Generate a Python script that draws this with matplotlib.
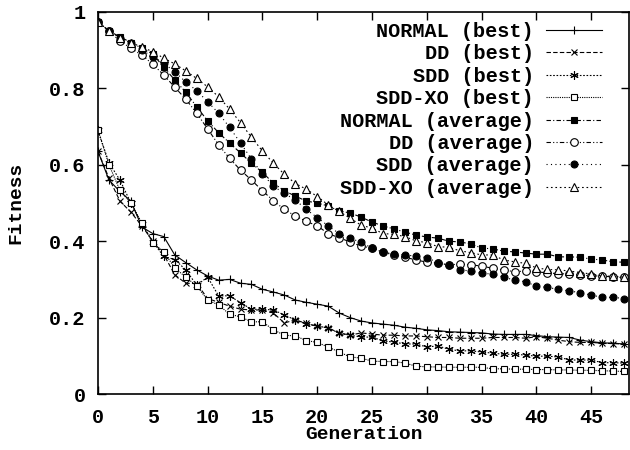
import matplotlib
matplotlib.use("Agg")
import matplotlib.pyplot as plt
import numpy as np

generations = list(range(49))

normal_best = [0.635,0.56,0.53,0.505,0.437,0.42,0.412,0.364,0.344,0.325,0.309,0.298,0.30,0.29,0.287,0.274,0.267,0.259,0.246,0.24,0.235,0.23,0.212,0.20,0.191,0.186,0.183,0.18,0.175,0.172,0.168,0.166,0.163,0.162,0.161,0.16,0.157,0.156,0.156,0.156,0.153,0.15,0.149,0.148,0.141,0.137,0.134,0.133,0.131]
dd_best = [0.635,0.565,0.505,0.476,0.44,0.40,0.365,0.312,0.29,0.289,0.25,0.24,0.23,0.222,0.22,0.22,0.212,0.186,0.194,0.185,0.177,0.173,0.16,0.154,0.16,0.157,0.154,0.154,0.152,0.152,0.15,0.148,0.148,0.146,0.146,0.146,0.148,0.148,0.148,0.146,0.15,0.146,0.141,0.137,0.135,0.135,0.133,0.132,0.131]
sdd_best = [0.69,0.605,0.56,0.50,0.445,0.398,0.36,0.352,0.325,0.285,0.306,0.257,0.257,0.239,0.222,0.222,0.22,0.207,0.194,0.183,0.178,0.173,0.159,0.154,0.149,0.149,0.139,0.136,0.131,0.131,0.123,0.126,0.117,0.113,0.113,0.11,0.107,0.104,0.104,0.102,0.099,0.099,0.097,0.089,0.089,0.089,0.082,0.082,0.081]
sddxo_best = [0.69,0.60,0.533,0.50,0.447,0.396,0.372,0.33,0.306,0.283,0.246,0.233,0.209,0.202,0.189,0.189,0.168,0.154,0.152,0.14,0.135,0.123,0.11,0.097,0.094,0.086,0.085,0.085,0.081,0.073,0.071,0.071,0.07,0.07,0.07,0.07,0.066,0.066,0.065,0.065,0.064,0.064,0.063,0.063,0.062,0.062,0.061,0.06,0.059]
normal_avg = [0.975,0.95,0.935,0.92,0.905,0.89,0.855,0.822,0.79,0.752,0.715,0.684,0.657,0.631,0.604,0.58,0.552,0.532,0.518,0.505,0.50,0.492,0.479,0.474,0.463,0.45,0.44,0.432,0.424,0.416,0.411,0.408,0.40,0.398,0.393,0.382,0.38,0.374,0.372,0.369,0.366,0.366,0.359,0.359,0.358,0.353,0.351,0.346,0.345]
dd_avg = [0.975,0.95,0.924,0.905,0.887,0.863,0.835,0.803,0.772,0.735,0.694,0.652,0.617,0.586,0.56,0.532,0.506,0.483,0.466,0.452,0.44,0.42,0.409,0.398,0.387,0.382,0.371,0.364,0.358,0.351,0.345,0.343,0.338,0.34,0.338,0.335,0.329,0.325,0.32,0.322,0.32,0.317,0.315,0.314,0.312,0.309,0.309,0.306,0.305]
sdd_avg = [0.975,0.95,0.933,0.918,0.90,0.883,0.866,0.843,0.817,0.794,0.765,0.735,0.698,0.657,0.615,0.576,0.544,0.525,0.508,0.483,0.462,0.44,0.42,0.408,0.397,0.382,0.372,0.366,0.364,0.361,0.357,0.344,0.337,0.325,0.322,0.316,0.314,0.306,0.298,0.294,0.282,0.279,0.274,0.27,0.265,0.259,0.253,0.253,0.25]
sddxo_avg = [0.975,0.95,0.933,0.92,0.908,0.896,0.879,0.864,0.846,0.826,0.804,0.778,0.746,0.71,0.672,0.636,0.604,0.575,0.551,0.536,0.517,0.495,0.478,0.46,0.442,0.434,0.42,0.418,0.412,0.401,0.396,0.386,0.384,0.375,0.37,0.364,0.364,0.351,0.346,0.342,0.33,0.326,0.325,0.322,0.318,0.314,0.309,0.308,0.306]

labels = ["NORMAL (best)", "DD (best)", "SDD (best)", "SDD-XO (best)",
          "NORMAL (average)", "DD (average)", "SDD (average)", "SDD-XO (average)"]
xticks = [0, 5, 10, 15, 20, 25, 30, 35, 40, 45]
yticks = [0, 0.2, 0.4, 0.6, 0.8, 1]
ytick_labels = ["0", "0.2", "0.4", "0.6", "0.8", "1"]

series = [normal_best, dd_best, sdd_best, sddxo_best, normal_avg, dd_avg, sdd_avg, sddxo_avg]
styles = [
    dict(ls="-", marker="+", ms=6, mfc="black"),
    dict(ls=(0, (4, 2)), marker="x", ms=5, mfc="black"),
    dict(ls=(0, (1.5, 1.5)), marker=(6, 2, 0), ms=6, mfc="black"),
    dict(ls=(0, (1, 1)), marker="s", ms=5, mfc="white"),
    dict(ls=(0, (4, 2, 1, 2)), marker="s", ms=5, mfc="black"),
    dict(ls=(0, (4, 2, 1, 2, 1, 2)), marker="o", ms=5.5, mfc="white"),
    dict(ls=(0, (1, 3)), marker="o", ms=5, mfc="black"),
    dict(ls=(0, (1.5, 2.5)), marker="^", ms=5.5, mfc="white"),
]

mono = "Liberation Mono"
plt.rcParams["font.family"] = [mono, "DejaVu Sans Mono"]
plt.rcParams["font.weight"] = "bold"

fig = plt.figure(figsize=(6.3, 4.5), dpi=100)
ax = fig.add_axes([0.1556, 0.1244, 0.843, 0.849])

handles = []
for data, st, lab in zip(series, styles, labels):
    h, = ax.plot(generations, data, color="black", lw=0.8, linestyle=st["ls"],
                 marker=st["marker"], markersize=st["ms"], markerfacecolor=st["mfc"],
                 markeredgecolor="black", markeredgewidth=0.8, label=lab)
    handles.append(h)

ax.set_xlim(0, 48.45)
ax.set_ylim(0, 1)
ax.set_xticks(xticks)
ax.set_yticks(yticks)
ax.set_yticklabels(ytick_labels)
ax.tick_params(direction="in", length=6, width=1, top=True, right=True,
               labelsize=14.5)
ax.tick_params(axis="y", pad=9)
ax.tick_params(axis="x", pad=10)
for lbl in ax.get_xticklabels() + ax.get_yticklabels():
    lbl.set_fontweight("bold")
for sp in ax.spines.values():
    sp.set_linewidth(1.2)

ax.set_xlabel("Generation", fontsize=14, fontweight="bold", labelpad=-1)
ax.set_ylabel("Fitness", fontsize=14, fontweight="bold", labelpad=18)

leg = ax.legend(handles=handles, loc="upper right", bbox_to_anchor=(0.965, 0.995),
                frameon=False, markerfirst=False, handlelength=2.8,
                labelspacing=0.17, handletextpad=0.6, borderaxespad=0.0,
                prop=dict(family=mono, weight="bold", size=14.5))
for t in leg.get_texts():
    t.set_ha("right")
leg._legend_box.align = "right"

fig.savefig("out.png", dpi=100)
